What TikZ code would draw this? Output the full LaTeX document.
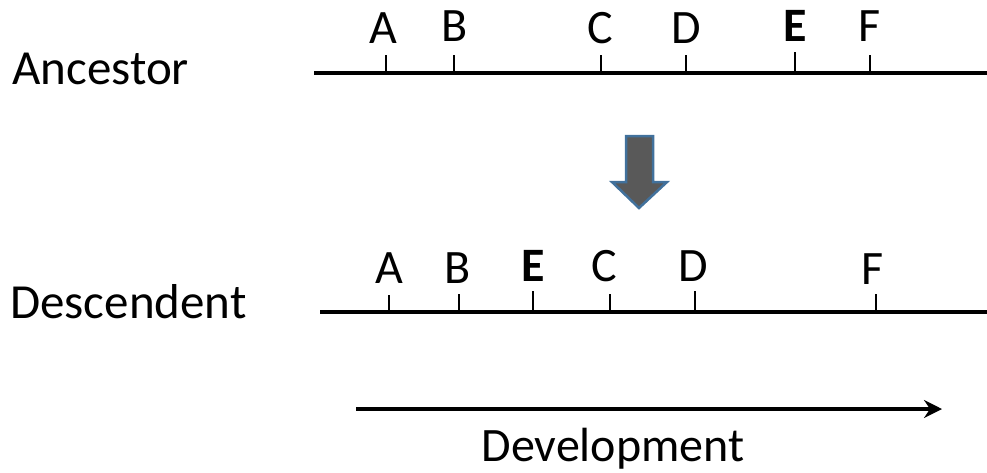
\documentclass[tikz,border=0pt]{standalone}
\usepackage{fontspec}
\setmainfont{Carlito}
\usetikzlibrary{arrows.meta}
\definecolor{arrfill}{HTML}{595959}
\definecolor{arrline}{HTML}{41719C}
\begin{document}
\begin{tikzpicture}[x=1pt,y=-1pt,
  lbl/.style={font=\fontsize{48}{48}\selectfont, inner sep=0pt, anchor=base},
  rowlbl/.style={font=\fontsize{49}{49}\selectfont, inner sep=0pt, anchor=base west},
  axis/.style={line width=3.3pt},
  tick/.style={line width=2.8pt},
  devarrow/.style={line width=3.4pt, -{Stealth[length=18pt,width=18pt,inset=6pt]}}]
\useasboundingbox (0,0) rectangle (987,472);

% Ancestor row
\node[rowlbl] (anc) at (12,84) {Ancestor};
\coordinate (t0) at (314,73);
\coordinate (t1) at (987,73);
\draw[axis] (t0) -- (t1);
\foreach \n/\x/\top in {A/386/55,B/454/55,C/601/55,D/686/55,E/795/52,F/870/55}{
  \coordinate (ta\n) at (\x,73);
  \coordinate (tt\n) at (\x,\top);
  \draw[tick] (ta\n) -- (tt\n);
}
\node[lbl] (aA) at (383,43) {A};
\node[lbl] (aB) at (455,41) {B};
\node[lbl] (aC) at (600,43) {C};
\node[lbl] (aD) at (686,43) {D};
\node[lbl] (aE) at (795,41) {\bfseries E};
\node[lbl] (aF) at (870,41) {F};

% big down arrow
\draw[line width=2.5pt, draw=arrline, fill=arrfill]
  (626,136) -- (653,136) -- (653,182) -- (667,182) -- (639,208) -- (612,182) -- (626,182) -- cycle;

% Descendent row
\node[rowlbl] (des) at (10,318) {Descendent};
\coordinate (b0) at (320,312);
\coordinate (b1) at (987,312);
\draw[axis] (b0) -- (b1);
\foreach \n/\x/\top in {A/389/295,B/459/294,E/533/291,C/610/294,D/695/291,F/876/294}{
  \coordinate (ba\n) at (\x,313);
  \coordinate (bt\n) at (\x,\top);
  \draw[tick] (ba\n) -- (bt\n);
}
\node[lbl] (dA) at (389,283) {A};
\node[lbl] (dB) at (458,283) {B};
\node[lbl] (dE) at (533,281) {\bfseries E};
\node[lbl] (dC) at (604,281) {C};
\node[lbl] (dD) at (693,281) {D};
\node[lbl] (dF) at (873,284) {F};

% Development arrow
\coordinate (d0) at (356,409);
\coordinate (d1) at (942,409);
\draw[devarrow] (d0) -- (d1);
\node[lbl] (dev) at (613,461) {Development};
\end{tikzpicture}
\end{document}
